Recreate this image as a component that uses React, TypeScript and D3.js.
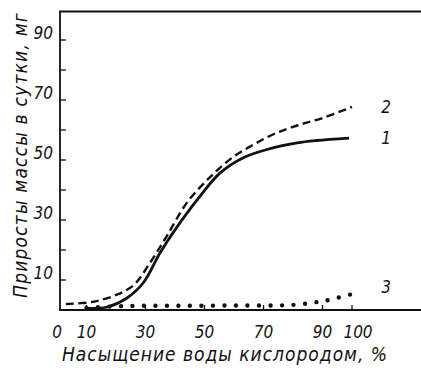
import React, {useEffect, useRef} from 'react';
import * as d3 from 'd3';

// curve 1 (solid)
const curve1X = [10, 17, 23.7, 29.2, 34.9, 40, 47.5, 55.3, 63, 71.2, 81.4, 88, 99];
const curve1Y = [0.5, 1, 4, 9, 19, 26.7, 36.7, 45.7, 50.7, 53.5, 55.7, 56.5, 57.3];
// curve 2 (dashed)
const curve2X = [3, 12, 20, 26, 31.5, 37, 44, 51.9, 59.7, 66.4, 73.2, 81.4, 90, 100];
const curve2Y = [2, 2.7, 5, 8.3, 15.7, 24.3, 35.7, 44.3, 51, 55, 58.5, 61.5, 64, 67.7];
// curve 3 (dotted)
const curve3X = [10, 22, 40, 60, 80, 88.5, 92, 96, 100];
const curve3Y = [0.7, 1.3, 1.4, 1.5, 1.7, 2.7, 3.3, 4.3, 5.3];

const xTickLabels = [0, 10, 30, 50, 70, 90, 100];
const yTickLabels = [10, 30, 50, 70, 90];
const yTickMarks = [10, 20, 30, 40, 50, 60, 70, 80, 90];
const xTickMarks = [10, 30, 50, 70, 90, 100];
const curveLabels = ['1', '2', '3'];

const FONT = "'DejaVu Sans Condensed', 'Liberation Sans Narrow', 'DejaVu Sans', sans-serif";

export default function App() {
    const svgRef = useRef<SVGSVGElement>(null);

    useEffect(() => {
        const width = 421;
        const height = 371;
        const svg = d3.select(svgRef.current)
            .attr('width', width)
            .attr('height', height);
        svg.selectAll('*').remove();

        const x = d3.scaleLinear().domain([0, 100]).range([57, 352]);
        const y = d3.scaleLinear().domain([0, 100]).range([310, 10]);
        const left = 60;

        // frame
        svg.append('path')
            .attr('d', `M${width},${y(99.5)}H${left}V${y(0)}H${width}`)
            .attr('fill', 'none')
            .attr('stroke', '#111')
            .attr('stroke-width', 1.8);

        svg.append('g').selectAll('line')
            .data(yTickMarks)
            .enter().append('line')
            .attr('x1', left - 1).attr('x2', left + 6)
            .attr('y1', d => y(d)).attr('y2', d => y(d))
            .attr('stroke', '#111').attr('stroke-width', 1.3);

        svg.append('g').selectAll('line')
            .data(xTickMarks)
            .enter().append('line')
            .attr('x1', d => x(d)).attr('x2', d => x(d))
            .attr('y1', y(0)).attr('y2', y(0) - 5)
            .attr('stroke', '#111').attr('stroke-width', 1.3);

        svg.append('g').selectAll('text')
            .data(yTickLabels)
            .enter().append('text')
            .attr('x', 53)
            .attr('y', d => y(d) - 7)
            .attr('dy', '0.35em')
            .attr('text-anchor', 'end')
            .attr('font-family', FONT)
            .attr('font-style', 'italic')
            .attr('font-size', 17)
            .attr('fill', '#111')
            .text(d => d);

        svg.append('g').selectAll('text')
            .data(xTickLabels)
            .enter().append('text')
            .attr('x', d => x(d) + (d === 100 ? 6 : 0))
            .attr('y', 338)
            .attr('text-anchor', 'middle')
            .attr('font-family', FONT)
            .attr('font-style', 'italic')
            .attr('font-size', 17)
            .attr('fill', '#111')
            .text(d => d);

        svg.append('text')
            .attr('x', 225)
            .attr('y', 361)
            .attr('text-anchor', 'middle')
            .attr('font-family', FONT)
            .attr('font-style', 'italic')
            .attr('font-size', 19)
            .attr('letter-spacing', 1)
            .attr('fill', '#111')
            .text('Насыщение воды кислородом, %');

        svg.append('text')
            .attr('transform', `translate(27,155) rotate(-90)`)
            .attr('text-anchor', 'middle')
            .attr('font-family', FONT)
            .attr('font-style', 'italic')
            .attr('font-size', 19)
            .attr('letter-spacing', 1.2)
            .attr('fill', '#111')
            .text('Приросты массы в сутки, мг');

        const line = d3.line<[number, number]>()
            .x(d => x(d[0]))
            .y(d => y(d[1]))
            .curve(d3.curveCatmullRom.alpha(0.5));

        const pts = (xs: number[], ys: number[]) => xs.map((v, i) => [v, ys[i]] as [number, number]);

        svg.append('path')
            .datum(pts(curve2X, curve2Y))
            .attr('d', line)
            .attr('fill', 'none')
            .attr('stroke', '#111')
            .attr('stroke-width', 2.4)
            .attr('stroke-dasharray', '8 4.5');

        svg.append('path')
            .datum(pts(curve1X, curve1Y))
            .attr('d', line)
            .attr('fill', 'none')
            .attr('stroke', '#111')
            .attr('stroke-width', 2.8);

        svg.append('path')
            .datum(pts(curve3X, curve3Y))
            .attr('d', line)
            .attr('fill', 'none')
            .attr('stroke', '#111')
            .attr('stroke-width', 4.4)
            .attr('stroke-linecap', 'round')
            .attr('stroke-dasharray', '0 11.5');

        // curve numbers
        const labelY = [curve1Y[curve1Y.length - 1], curve2Y[curve2Y.length - 1], 7.5];
        svg.append('g').selectAll('text')
            .data(curveLabels)
            .enter().append('text')
            .attr('x', 386)
            .attr('y', (d, i) => y(labelY[i]))
            .attr('dy', '0.35em')
            .attr('text-anchor', 'middle')
            .attr('font-family', FONT)
            .attr('font-style', 'italic')
            .attr('font-size', 17)
            .attr('fill', '#111')
            .text(d => d);
    }, []);

    return <svg ref={svgRef} style={{position: 'absolute', left: 0, top: 0}}/>;
}
